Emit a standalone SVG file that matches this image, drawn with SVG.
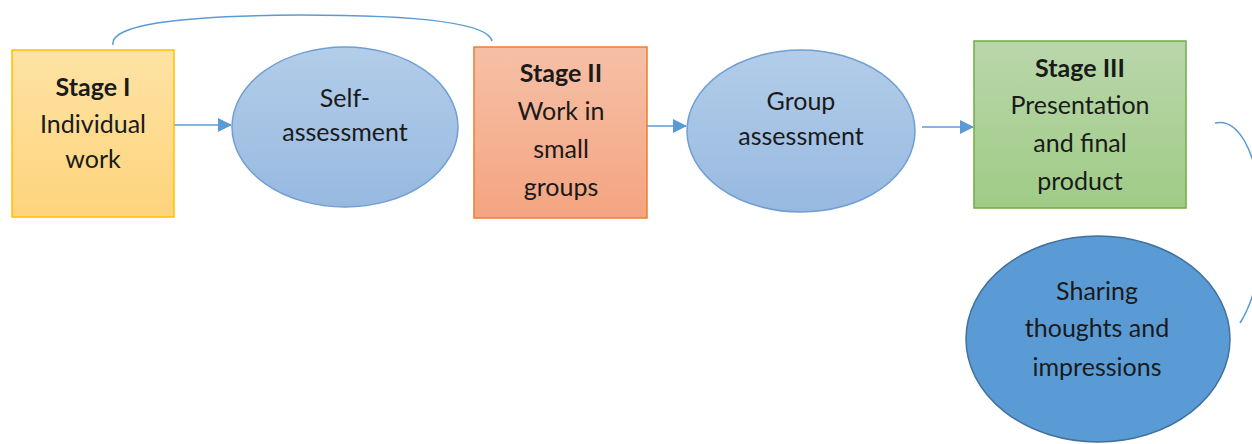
<svg xmlns="http://www.w3.org/2000/svg" width="1252" height="444" viewBox="0 0 1252 444">
<defs>
<linearGradient id="gY" x1="0" y1="0" x2="0" y2="1"><stop offset="0" stop-color="#fee3a4"/><stop offset="1" stop-color="#fed47c"/></linearGradient>
<linearGradient id="gO" x1="0" y1="0" x2="0" y2="1"><stop offset="0" stop-color="#f6c0a6"/><stop offset="1" stop-color="#f4a481"/></linearGradient>
<linearGradient id="gG" x1="0" y1="0" x2="0" y2="1"><stop offset="0" stop-color="#bad7ab"/><stop offset="1" stop-color="#9fcb86"/></linearGradient>
<linearGradient id="gB" x1="0" y1="0" x2="0" y2="1"><stop offset="0" stop-color="#b3cde9"/><stop offset="1" stop-color="#97b9e0"/></linearGradient>
<marker id="ah" markerWidth="14" markerHeight="14" refX="13" refY="7" orient="auto" markerUnits="userSpaceOnUse"><path d="M0,0 L14,7 L0,14 z" fill="#5b9bd5"/></marker>
</defs>
<style>
text{font-family:Lato,"Liberation Sans",sans-serif;font-size:25px;fill:#1a1a1a;text-anchor:middle}
.b{font-weight:bold}
.conn{fill:none;stroke:#5b9bd5;stroke-width:1.5}
</style>
<rect width="1252" height="444" fill="#fff"/>
<g id="connectors">
<line class="conn" x1="174" y1="125" x2="231" y2="125" marker-end="url(#ah)"/>
<line class="conn" x1="636" y1="126" x2="686" y2="126" marker-end="url(#ah)"/>
<line class="conn" x1="922" y1="127" x2="973" y2="127" marker-end="url(#ah)"/>
<path class="conn" d="M113,45 Q108,16 300,15 Q486,15 492,41"/>
<path class="conn" d="M1215,123 C1262,112 1280,260 1240,323"/>
</g>
<g id="stage1">
<rect x="12" y="50" width="162" height="167" fill="url(#gY)" stroke="#ffc000" stroke-width="1.5"/>
<text x="93" y="96" class="b">Stage I</text>
<text x="93" y="133">Individual</text>
<text x="93" y="168">work</text>
</g>
<g id="self">
<ellipse cx="345" cy="127" rx="113" ry="80" fill="url(#gB)" stroke="#6f9fd4" stroke-width="1.5"/>
<text x="345" y="107">Self-</text>
<text x="345" y="141">assessment</text>
</g>
<g id="stage2">
<rect x="474" y="47" width="173" height="171" fill="url(#gO)" stroke="#ed7d31" stroke-width="1.5"/>
<text x="561" y="82" class="b">Stage II</text>
<text x="561" y="120">Work in</text>
<text x="561" y="158">small</text>
<text x="561" y="196">groups</text>
</g>
<g id="group">
<ellipse cx="801" cy="131" rx="114" ry="81" fill="url(#gB)" stroke="#6f9fd4" stroke-width="1.5"/>
<text x="801" y="110">Group</text>
<text x="801" y="145">assessment</text>
</g>
<g id="stage3">
<rect x="974" y="41" width="212" height="167" fill="url(#gG)" stroke="#70ad47" stroke-width="1.5"/>
<text x="1080" y="77" class="b">Stage III</text>
<text x="1080" y="114">Presentation</text>
<text x="1080" y="152">and final</text>
<text x="1080" y="190">product</text>
</g>
<g id="sharing">
<ellipse cx="1098" cy="339" rx="132" ry="103" fill="#5b9bd5" stroke="#41719c" stroke-width="1.5"/>
<text x="1097" y="300">Sharing</text>
<text x="1097" y="337">thoughts and</text>
<text x="1097" y="376">impressions</text>
</g>
</svg>
